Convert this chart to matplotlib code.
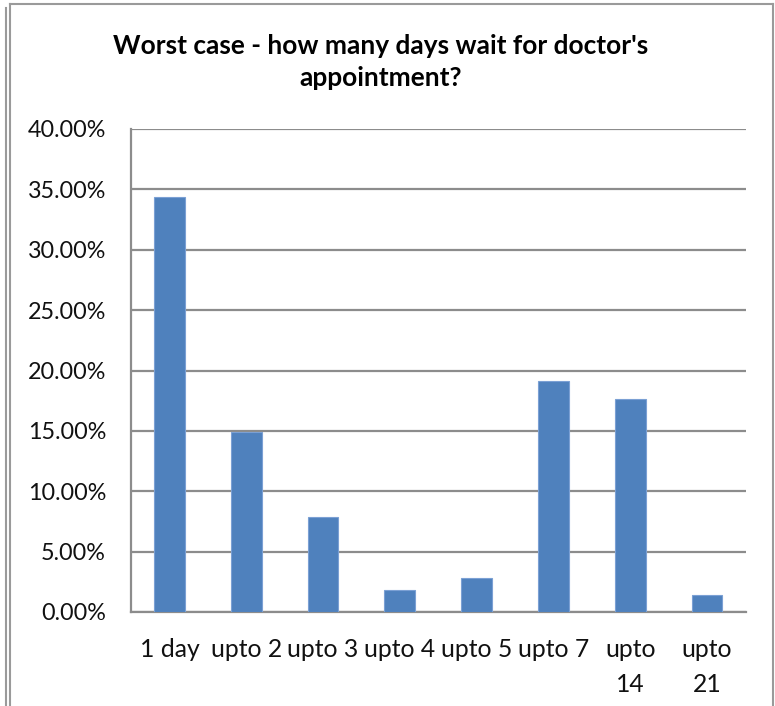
import matplotlib
matplotlib.use("Agg")
import matplotlib.pyplot as plt
from matplotlib.lines import Line2D
from matplotlib.ticker import FuncFormatter

plt.rcParams['font.family'] = ['Lato', 'DejaVu Sans']

# survey answers: share of respondents per waiting time
categories = ["1 day", "upto 2", "upto 3", "upto 4", "upto 5", "upto 7", "upto\n14", "upto\n21"]
shares = [34.4, 14.9, 7.9, 1.8, 2.8, 19.1, 17.6, 1.4]
yticks = [0, 5, 10, 15, 20, 25, 30, 35, 40]

W, H = 775, 706
fig = plt.figure(figsize=(W / 100, H / 100), dpi=100)
ax = fig.add_axes([131 / W, 1 - 612 / H, (745.5 - 131) / W, (612 - 129) / H])

x = range(len(categories))
ax.bar(x, shares, width=0.4, color='#4F81BD', edgecolor='#7BA0D4', linewidth=0.8, zorder=3)

ax.set_xlim(-0.5, len(categories) - 0.5)
ax.set_ylim(0, 40)
ax.set_yticks(yticks)
ax.yaxis.set_major_formatter(FuncFormatter(lambda v, p: '{:.2f}%'.format(v)))
ax.set_xticks(list(x))
ax.set_xticklabels(categories, linespacing=1.6)
ax.tick_params(axis='y', length=0, pad=18, labelsize=16.8, labelcolor='#111111')
ax.tick_params(axis='x', length=0, pad=19, labelsize=17.8, labelcolor='#111111')

ax.grid(axis='y', color='#8C8C8C', linewidth=1.6, zorder=0)
for side in ['top', 'right']:
    ax.spines[side].set_visible(False)
for side in ['left', 'bottom']:
    ax.spines[side].set_color('#8C8C8C')
    ax.spines[side].set_linewidth(1.6)

fig.text(0.491, 1 - 62 / H, "Worst case - how many days wait for doctor's\nappointment?",
         ha='center', va='center', fontsize=18.9, fontweight='bold', linespacing=1.4)

# chart frame
def px_line(x0, y0, x1, y1):
    fig.add_artist(Line2D([x0 / W, x1 / W], [1 - y0 / H, 1 - y1 / H],
                          color='#9A9A9A', linewidth=1.5, transform=fig.transFigure))

px_line(5.5, 8, 5.5, H)
px_line(9.5, 4, 9.5, H)
px_line(9.5, 4, 772.5, 4)
px_line(772.5, 4, 772.5, H)

fig.savefig('out.png', dpi=100)
